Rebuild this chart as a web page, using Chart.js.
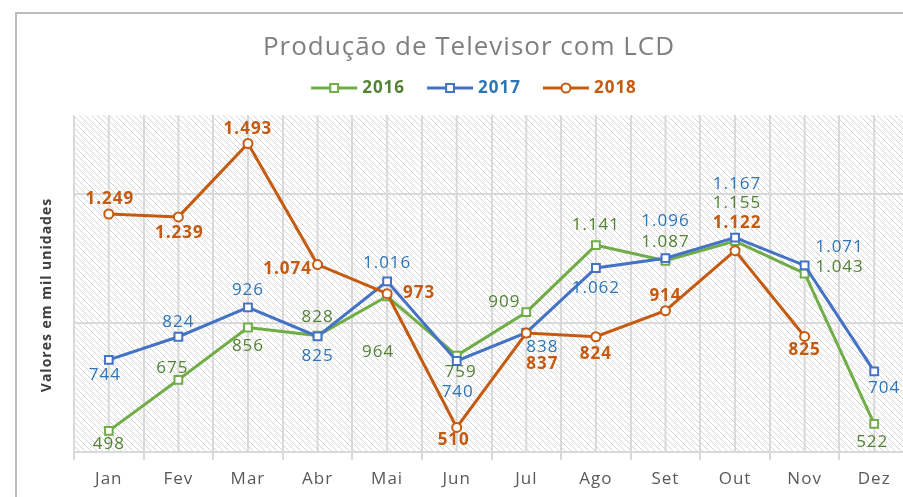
<!DOCTYPE html>
<html>
<head>
<meta charset="utf-8">
<script src="https://cdn.jsdelivr.net/npm/chart.js@4"></script>
<style>
html, body { margin: 0; padding: 0; width: 903px; height: 497px; overflow: hidden; background: #fff; }
#frame { position: absolute; left: 15px; top: 12px; width: 900px; height: 500px; border-top: 2px solid #bcbcbc; border-left: 2px solid #bcbcbc; }
#wrap { position: absolute; left: 0; top: 0; width: 938px; height: 497px; }
</style>
</head>
<body>
<div id="frame"></div>
<div id="wrap"><canvas id="myChart"></canvas></div>
<script>
// Data (mil unidades)
let months = ['Jan', 'Fev', 'Mar', 'Abr', 'Mai', 'Jun', 'Jul', 'Ago', 'Set', 'Out', 'Nov', 'Dez'];
let values2016 = [498, 675, 856, 828, 964, 759, 909, 1141, 1087, 1155, 1043, 522];
let values2017 = [744, 824, 926, 825, 1016, 740, 838, 1062, 1096, 1167, 1071, 704];
let values2018 = [1249, 1239, 1493, 1074, 973, 510, 837, 824, 914, 1122, 825, null];
let seriesNames = ['2016', '2017', '2018'];
let yGridValues = [425, 871, 1318];

// Label placement (pixel offsets from the point), style only
let labelOffsets2016 = [[0, 13], [-6, -12], [0, 19], [0, -18], [-9, 56], [4, 17], [-22, -10], [0, -20], [0, -19], [2, -38], [35, -6], [-2, 18]];
let labelOffsets2017 = [[-4, 15], [0, -15], [0, -17], [0, 20], [0, -18], [1, 31], [16, 14], [0, 20], [0, -37], [2, -54], [35, -18], [10, 17]];
let labelOffsets2018 = [[1, -15], [1, 16], [0, -14], [-30, 5], [32, -1], [-3, 13], [16, 31], [0, 17], [0, -15], [2, -28], [0, 14]];

let lineColors = ['#70ad47', '#4472c4', '#c55a11'];
let textColors = ['#548235', '#2e75b6', '#c55a11'];
let FONT = '"Open Sans", "Noto Sans", sans-serif';

function fmt(v) {
    if (v >= 1000) {
        return Math.floor(v / 1000) + '.' + String(v % 1000).padStart(3, '0');
    }
    return String(v);
}

// diagonal hatch pattern for the plot area
let hatch = document.createElement('canvas');
hatch.width = 6;
hatch.height = 6;
let hctx = hatch.getContext('2d');
hctx.strokeStyle = '#d5d5d5';
hctx.lineWidth = 1;
hctx.beginPath();
hctx.moveTo(0, 0); hctx.lineTo(6, 6);
hctx.moveTo(-1, 5); hctx.lineTo(1, 7);
hctx.moveTo(5, -1); hctx.lineTo(7, 1);
hctx.stroke();

function drawMarker(ctx, style, x, y, color) {
    ctx.lineWidth = 2;
    ctx.strokeStyle = color;
    ctx.fillStyle = '#ffffff';
    ctx.beginPath();
    if (style === 'circle') {
        ctx.arc(x, y, 4.5, 0, Math.PI * 2);
    } else {
        ctx.rect(x - 3.9, y - 3.9, 7.8, 7.8);
    }
    ctx.fill();
    ctx.stroke();
}

let extras = {
    id: 'extras',
    beforeDraw: function(chart) {
        let a = chart.chartArea;
        let ctx = chart.ctx;
        // wider letter spacing, like the original rendering
        ctx.letterSpacing = '1px';
        ctx.save();
        ctx.fillStyle = ctx.createPattern(hatch, 'repeat');
        ctx.fillRect(a.left, a.top, a.right - a.left, a.bottom - a.top);
        ctx.restore();
    },
    beforeDatasetsDraw: function(chart) {
        // gridlines through each category centre
        let a = chart.chartArea;
        let ctx = chart.ctx;
        let xs = chart.scales.x;
        ctx.save();
        ctx.strokeStyle = '#d9d9d9';
        ctx.lineWidth = 2;
        for (let i = 0; i < months.length; i++) {
            let x = xs.getPixelForValue(i);
            ctx.beginPath();
            ctx.moveTo(x, a.top);
            ctx.lineTo(x, a.bottom);
            ctx.stroke();
        }
        ctx.restore();
    },
    afterDatasetsDraw: function(chart) {
        let ctx = chart.ctx;
        let offsets = [labelOffsets2016, labelOffsets2017, labelOffsets2018];
        ctx.save();
        ctx.textAlign = 'center';
        ctx.textBaseline = 'middle';
        chart.data.datasets.forEach(function(ds, d) {
            let meta = chart.getDatasetMeta(d);
            ctx.font = (d === 2 ? 'bold ' : '') + '17px ' + FONT;
            ctx.fillStyle = textColors[d];
            meta.data.forEach(function(pt, i) {
                let v = ds.data[i];
                if (v === null || v === undefined) return;
                let off = offsets[d][i];
                ctx.fillText(fmt(v), pt.x + off[0], pt.y + off[1]);
            });
        });
        ctx.restore();
    },
    afterDraw: function(chart) {
        let ctx = chart.ctx;
        ctx.save();
        // y axis title
        ctx.translate(47, 295);
        ctx.rotate(-Math.PI / 2);
        ctx.font = 'bold 14px ' + FONT;
        ctx.fillStyle = '#404040';
        ctx.textAlign = 'center';
        ctx.textBaseline = 'middle';
        ctx.fillText('Valores em mil unidades', 0, 0);
        ctx.restore();

        // legend: line with marker + coloured bold year
        ctx.save();
        ctx.font = 'bold 17px ' + FONT;
        ctx.textBaseline = 'middle';
        let lineW = 46, gap = 5, itemGap = 22;
        let total = 0;
        seriesNames.forEach(function(n, i) {
            total += lineW + gap + ctx.measureText(n).width + (i < seriesNames.length - 1 ? itemGap : 0);
        });
        let x = 474 - total / 2;
        let y = 88;
        seriesNames.forEach(function(n, i) {
            ctx.strokeStyle = lineColors[i];
            ctx.lineWidth = 3;
            ctx.beginPath();
            ctx.moveTo(x, y);
            ctx.lineTo(x + lineW, y);
            ctx.stroke();
            drawMarker(ctx, i === 2 ? 'circle' : 'rect', x + lineW / 2, y, lineColors[i]);
            x += lineW + gap;
            ctx.fillStyle = textColors[i];
            ctx.fillText(n, x, y);
            x += ctx.measureText(n).width + itemGap;
        });
        ctx.restore();
    }
};

function makeSet(label, data, color, style, order) {
    return {
        label: label,
        data: data,
        borderColor: color,
        backgroundColor: '#ffffff',
        borderWidth: 3,
        pointStyle: style,
        pointRadius: style === 'circle' ? 4.5 : 5.5,
        pointBorderWidth: 2,
        pointBackgroundColor: '#ffffff',
        pointBorderColor: color,
        tension: 0,
        order: order
    };
}

let ctx = document.getElementById('myChart').getContext('2d');
let myChart = new Chart(ctx, {
    type: 'line',
    data: {
        labels: months,
        datasets: [
            makeSet(seriesNames[0], values2016, lineColors[0], 'rect', 2),
            makeSet(seriesNames[1], values2017, lineColors[1], 'rect', 1),
            makeSet(seriesNames[2], values2018, lineColors[2], 'circle', 0)
        ]
    },
    options: {
        responsive: true,
        maintainAspectRatio: false,
        animation: false,
        layout: { padding: 0 },
        plugins: {
            legend: { display: false },
            tooltip: { enabled: false },
            title: {
                display: true,
                text: 'Produção de Televisor com LCD',
                color: '#7f7f7f',
                font: { family: FONT, size: 26, weight: 'normal' },
                padding: { top: 32, bottom: 52 }
            }
        },
        scales: {
            x: {
                offset: true,
                grid: { offset: true, color: '#d9d9d9', lineWidth: 2, tickLength: 8 },
                border: { color: '#d9d9d9', width: 2 },
                ticks: { color: '#595959', font: { family: FONT, size: 17 }, padding: 9, maxRotation: 0, autoSkip: false },
                afterFit: function(s) { s.height = 45; }
            },
            y: {
                min: 425,
                max: 1591,
                afterBuildTicks: function(s) { s.ticks = yGridValues.map(function(v) { return { value: v }; }); },
                grid: { color: '#d9d9d9', lineWidth: 2, drawTicks: false },
                border: { display: false },
                ticks: { display: false },
                afterFit: function(s) { s.width = 74; }
            },
            // empty right-hand axis that only reserves space past the window edge
            yRight: {
                position: 'right',
                min: 425,
                max: 1591,
                grid: { display: false },
                border: { display: false },
                ticks: { display: false },
                afterFit: function(s) { s.width = 29; }
            }
        }
    },
    plugins: [extras]
});
</script>
</body>
</html>
